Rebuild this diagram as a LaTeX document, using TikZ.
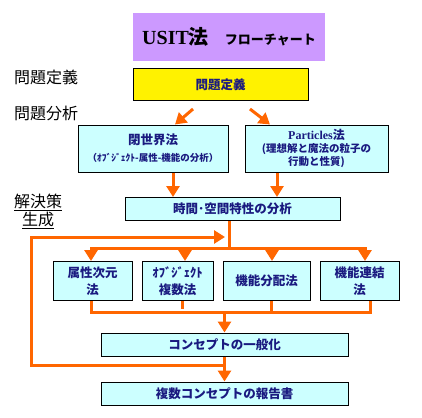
\documentclass[tikz,border=0pt]{standalone}
\usepackage{fontspec}
\setmainfont{Liberation Serif}
\newfontfamily\cjk{Noto Sans CJK JP}
\usepackage{tikz}
\usetikzlibrary{calc,arrows.meta,positioning}
\definecolor{flowOrange}{HTML}{FF6600}
\definecolor{boxCyan}{HTML}{CCFFFF}
\definecolor{titleViolet}{HTML}{CC99FF}
\definecolor{textNavy}{HTML}{1A1A80}
\tikzset{
title_box/.style={rectangle, fill=titleViolet, minimum width=192pt, minimum height=48pt, font=\bfseries\fontsize{20}{24}\selectfont},
def_box/.style={rectangle, draw, line width=1pt, fill=yellow, text=textNavy, minimum width=175pt, minimum height=31pt, font=\cjk\bfseries\fontsize{12.5}{15}\selectfont},
flow_box/.style={rectangle, draw, line width=1pt, fill=boxCyan, text=textNavy, inner sep=1pt, align=center, font=\cjk\bfseries\fontsize{12.5}{17}\selectfont},
side_label/.style={anchor=west, inner sep=0pt, font=\cjk\fontsize{16}{18}\selectfont},
flow_line/.style={draw=flowOrange, line width=3pt},
flow_arrow/.style={flow_line, -{Triangle[length=11pt,width=13pt]}}
}

\begin{document}
\begin{tikzpicture}[x=1pt, y=-1pt]
    \fill[white] (0,0) rectangle (422,417);
    \useasboundingbox (0,0) rectangle (422,417);

    \node[title_box] (title) at (229,37) {USIT{\cjk 法}\hspace{16pt}{\cjk\fontsize{13}{15}\selectfont フローチャート}};
    \node[def_box] (definition) at (220.5,84.5) {問題定義};
    \node[side_label] (lab_def) at (14,77) {問題定義};
    \node[side_label] (lab_ana) at (14,113) {問題分析};
    \node[side_label, anchor=north west, align=center] (lab_gen) at (14,194) {\underline{解決策}\\\underline{生成}};

    \node[flow_box, minimum width=150pt, minimum height=47pt] (closed) at (153,148.5) {閉世界法\\{\fontsize{9.5}{12}\selectfont （ｵﾌﾞｼﾞｪｸﾄ-属性-機能の分析）}};
    \node[flow_box, minimum width=143pt, minimum height=47pt, font=\cjk\bfseries\fontsize{10.5}{13}\selectfont] (particles) at (316.5,148.5) {{\fontsize{12}{14}\selectfont{\rmfamily Particles}法}\\(理想解と魔法の粒子の\\行動と性質)};
    \node[flow_box, minimum width=215pt, minimum height=23pt] (spacetime) at (232.5,209) {時間･空間特性の分析};

    \node[flow_box, minimum width=79pt, minimum height=39pt] (attr) at (92.5,281) {属性次元\\法};
    \node[flow_box, minimum width=71pt, minimum height=39pt] (obj) [right=9pt of attr] {ｵﾌﾞｼﾞｪｸﾄ\\複数法};
    \node[flow_box, minimum width=87pt, minimum height=39pt] (funcdist) [right=9pt of obj] {機能分配法};
    \node[flow_box, minimum width=79pt, minimum height=39pt] (funclink) [right=9pt of funcdist] {機能連結\\法};

    \node[flow_box, minimum width=247pt, minimum height=23pt] (general) at (224.5,344.5) {コンセプトの一般化};
    \node[flow_box, minimum width=247pt, minimum height=23pt] (report) [below=25pt of general] {複数コンセプトの報告書};

    % definition -> analysis
    \coordinate (d_left) at (193,109);
    \coordinate (d_right) at (250,109);
    \draw[flow_arrow] (d_left) -- ([xshift=22pt]closed.north);
    \draw[flow_arrow] (d_right) -- ([xshift=-46.5pt]particles.north);

    \coordinate (c_closed) at ([xshift=20pt]closed.south);
    \coordinate (c_part) at ([xshift=-39.5pt]particles.south);
    \draw[flow_arrow] (c_closed) -- (c_closed |- spacetime.north);
    \draw[flow_arrow] (c_part) -- (c_part |- spacetime.north);

    % branches
    \coordinate (s_top) at ([xshift=-3.5pt]spacetime.south);
    \coordinate (split) at (229,248);
    \draw[flow_line] (s_top) -- (split);
    \foreach \n/\dx in {attr/-1.5, obj/7.5, funcdist/5.5, funclink/5.5}{
        \path ([xshift=\dx pt]\n.north) coordinate (t_\n);
        \draw[flow_arrow] (t_\n |- split) -- (t_\n);
    }
    \draw[flow_line, line cap=rect] (t_attr |- split) -- (t_funclink |- split);

    % merge
    \coordinate (merge) at (224.5,312);
    \foreach \n/\dx in {attr/-1.5, obj/4.5, funcdist/4.5, funclink/10.5}
        \path ([xshift=\dx pt]\n.south) coordinate (b_\n);
    \draw[flow_line, line join=miter] (b_attr) |- (b_funclink |- merge) -- (b_funclink);
    \draw[flow_line] (b_obj) -- ++(0,8);
    \draw[flow_line] (b_funcdist) -- (b_funcdist |- merge);
    \draw[flow_arrow] (merge) -- (general.north);
    \draw[flow_arrow] (general.south) -- (report.north);

    % loop back
    \coordinate (loop_in) at (224.5,365);
    \coordinate (loop_out) at (225,237);
    \draw[flow_arrow, line join=miter] (loop_in) -- ++(-193.5,0) |- (loop_out);
\end{tikzpicture}
\end{document}
